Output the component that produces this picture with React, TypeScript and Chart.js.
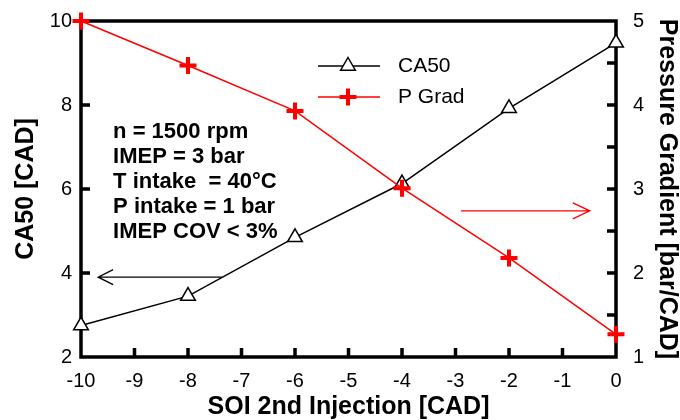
import React, { useEffect, useRef } from "react";
import { Chart, registerables } from "chart.js";

Chart.register(...registerables);

const FONT = "'Liberation Sans', Arial, sans-serif";

// ---- data ----
const soi = [-10, -8, -6, -4, -2, 0];
const ca50 = [2.75, 3.45, 4.85, 6.13, 7.92, 9.48];
const pGrad = [5.0, 4.47, 3.93, 3.01, 2.18, 1.27];
const xTickValues = [-10, -9, -8, -7, -6, -5, -4, -3, -2, -1, 0];
const leftTickValues = [2, 4, 6, 8, 10];
const rightTickValues = [1, 1.5, 2, 2.5, 3, 3.5, 4, 4.5, 5];
const seriesLabels = ["CA50", "P Grad"];
const notes = [
  "n = 1500 rpm",
  "IMEP = 3 bar",
  "T intake  = 40°C",
  "P intake = 1 bar",
  "IMEP COV < 3%",
];

function drawTriangle(ctx: CanvasRenderingContext2D, x: number, y: number, r: number) {
  ctx.beginPath();
  ctx.moveTo(x, y - r);
  ctx.lineTo(x + 0.866 * r, y + 0.5 * r);
  ctx.lineTo(x - 0.866 * r, y + 0.5 * r);
  ctx.closePath();
  ctx.fillStyle = "#fff";
  ctx.fill();
  ctx.stroke();
}

function drawCross(ctx: CanvasRenderingContext2D, x: number, y: number, r: number) {
  ctx.beginPath();
  ctx.moveTo(x - r, y);
  ctx.lineTo(x + r, y);
  ctx.moveTo(x, y - r);
  ctx.lineTo(x, y + r);
  ctx.stroke();
}

function arrow(
  ctx: CanvasRenderingContext2D,
  x0: number,
  y0: number,
  x1: number,
  y1: number,
  color: string,
  headLen: number,
  headHalf: number
) {
  ctx.save();
  ctx.strokeStyle = color;
  ctx.lineWidth = 1.3;
  ctx.beginPath();
  ctx.moveTo(x0, y0);
  ctx.lineTo(x1, y1);
  const dir = Math.sign(x1 - x0);
  ctx.moveTo(x1 - dir * headLen, y1 - headHalf);
  ctx.lineTo(x1, y1);
  ctx.lineTo(x1 - dir * headLen, y1 + headHalf);
  ctx.stroke();
  ctx.restore();
}

const inner = (arr: number[]) => arr.slice(1, arr.length - 1);

const framePlugin = {
  id: "frameTicks",
  afterDraw(chart: any) {
    const { ctx, chartArea: a, scales } = chart;
    const TL = 9;
    const TW = 3.5;
    ctx.save();
    ctx.fillStyle = "#000";
    for (const v of inner(xTickValues)) {
      const px = scales.x.getPixelForValue(v);
      ctx.fillRect(px - TW / 2, a.bottom - TL, TW, TL);
    }
    for (const v of inner(leftTickValues)) {
      const py = scales.y.getPixelForValue(v);
      ctx.fillRect(a.left, py - TW / 2, TL, TW);
    }
    for (const v of inner(rightTickValues)) {
      const py = scales.y1.getPixelForValue(v);
      ctx.fillRect(a.right - TL, py - TW / 2, TL, TW);
    }
    ctx.restore();
  },
  beforeDatasetsDraw(chart: any) {
    const { ctx, chartArea: a, scales } = chart;
    ctx.save();
    ctx.setLineDash([]);
    ctx.strokeStyle = "#000";
    ctx.lineWidth = 3.5;
    ctx.strokeRect(a.left, a.top, a.right - a.left, a.bottom - a.top);

    // annotation text
    ctx.fillStyle = "#000";
    ctx.font = `bold 22px ${FONT}`;
    ctx.textAlign = "left";
    ctx.textBaseline = "alphabetic";
    const nx = scales.x.getPixelForValue(-9.4);
    const ny = scales.y.getPixelForValue(7.21);
    notes.forEach((s, i) => ctx.fillText(s, nx, ny + i * 25));

    // arrows
    arrow(
      ctx,
      scales.x.getPixelForValue(-7.36),
      scales.y.getPixelForValue(3.9),
      scales.x.getPixelForValue(-9.68),
      scales.y.getPixelForValue(3.9),
      "#000",
      15,
      7.5
    );
    arrow(
      ctx,
      scales.x.getPixelForValue(-2.9),
      scales.y1.getPixelForValue(2.74),
      scales.x.getPixelForValue(-0.49),
      scales.y1.getPixelForValue(2.74),
      "#ff0000",
      17,
      8
    );

    // legend
    const lx0 = a.left + 237;
    const lx1 = a.left + 299;
    const mx = a.left + 267;
    const tx = a.left + 317;
    const ly = [a.top + 45, a.top + 76];
    ctx.lineWidth = 1.5;
    ctx.strokeStyle = "#000";
    ctx.beginPath();
    ctx.moveTo(lx0, ly[0]);
    ctx.lineTo(lx1, ly[0]);
    ctx.stroke();
    drawTriangle(ctx, mx, ly[0], 8.5);
    ctx.strokeStyle = "#ff0000";
    ctx.beginPath();
    ctx.moveTo(lx0, ly[1]);
    ctx.lineTo(lx1, ly[1]);
    ctx.stroke();
    ctx.lineWidth = 4;
    drawCross(ctx, mx, ly[1], 8.5);
    ctx.fillStyle = "#000";
    ctx.font = `21px ${FONT}`;
    ctx.textBaseline = "middle";
    ctx.fillText(seriesLabels[0], tx, ly[0]);
    ctx.fillText(seriesLabels[1], tx, ly[1]);
    ctx.restore();
  },
};

function zeroPad(s: any) {
  s.paddingTop = 0;
  s.paddingBottom = 0;
  s.paddingLeft = 0;
  s.paddingRight = 0;
}

export default function App() {
  const ref = useRef<HTMLCanvasElement | null>(null);

  useEffect(() => {
    if (!ref.current) return;
    const chart = new Chart(ref.current, {
      type: "line",
      data: {
        datasets: [
          {
            label: seriesLabels[0],
            data: soi.map((x, i) => ({ x, y: ca50[i] })),
            yAxisID: "y",
            borderColor: "#000",
            borderWidth: 1.5,
            pointStyle: "triangle",
            pointRadius: 8.5,
            pointBorderColor: "#000",
            pointBackgroundColor: "#fff",
            pointBorderWidth: 1.5,
            order: 1,
            clip: false as any,
          },
          {
            label: seriesLabels[1],
            data: soi.map((x, i) => ({ x, y: pGrad[i] })),
            yAxisID: "y1",
            borderColor: "#ff0000",
            borderWidth: 1.5,
            pointStyle: "cross",
            pointRadius: 8.5,
            pointBorderColor: "#ff0000",
            pointBackgroundColor: "#ff0000",
            pointBorderWidth: 4,
            order: 0,
            clip: false as any,
          },
        ],
      },
      options: {
        animation: false,
        responsive: true,
        maintainAspectRatio: false,
        layout: { padding: { top: 21, left: 0, right: 0, bottom: 0 } },
        plugins: {
          legend: { display: false },
          tooltip: { enabled: false },
        },
        scales: {
          x: {
            type: "linear",
            min: -10,
            max: 0,
            afterBuildTicks: (s: any) => {
              s.ticks = xTickValues.map((v) => ({ value: v }));
            },
            ticks: {
              font: { size: 20, family: FONT },
              color: "#000",
              padding: 12,
              maxRotation: 0,
              autoSkip: false,
            },
            grid: { display: false, drawTicks: false },
            border: { display: false },
            title: {
              display: true,
              text: "SOI 2nd Injection [CAD]",
              font: { size: 25, weight: "bold", family: FONT },
              color: "#000",
              padding: { top: 0, bottom: -2 },
            },
            afterFit: (s: any) => {
              s.height = 63;
              zeroPad(s);
            },
          },
          y: {
            type: "linear",
            position: "left",
            min: 2,
            max: 10,
            afterBuildTicks: (s: any) => {
              s.ticks = leftTickValues.map((v) => ({ value: v }));
            },
            ticks: {
              font: { size: 20, family: FONT },
              color: "#000",
              padding: 9,
            },
            grid: { display: false, drawTicks: false },
            border: { display: false },
            title: {
              display: true,
              text: "CA50 [CAD]",
              font: { size: 25, weight: "bold", family: FONT },
              color: "#000",
              padding: { top: 11, bottom: 0 },
            },
            afterFit: (s: any) => {
              s.width = 81;
              zeroPad(s);
            },
          },
          y1: {
            type: "linear",
            position: "right",
            min: 1,
            max: 5,
            afterBuildTicks: (s: any) => {
              s.ticks = rightTickValues.map((v) => ({ value: v }));
            },
            ticks: {
              font: { size: 20, family: FONT },
              color: "#000",
              padding: 17,
              callback: (v: any) => (Number.isInteger(Number(v)) ? String(v) : ""),
            },
            grid: { display: false, drawTicks: false },
            border: { display: false },
            title: {
              display: true,
              text: "Pressure Gradient [bar/CAD]",
              font: { size: 25, weight: "bold", family: FONT },
              color: "#000",
              padding: { top: -2, bottom: 0 },
            },
            afterFit: (s: any) => {
              s.width = 64;
              zeroPad(s);
            },
          },
        },
      },
      plugins: [framePlugin],
    } as any);
    return () => chart.destroy();
  }, []);

  return (
    <div
      style={{
        position: "fixed",
        left: 0,
        top: 0,
        width: 680,
        height: 420,
        background: "#fff",
      }}
    >
      <canvas ref={ref} />
    </div>
  );
}
